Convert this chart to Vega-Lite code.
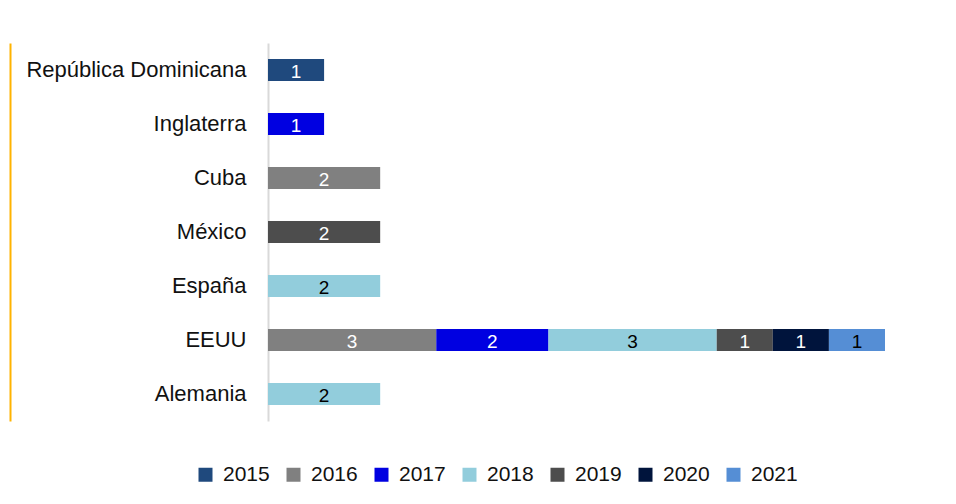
{
  "$schema": "https://vega.github.io/schema/vega-lite/v6.json",
  "width": 617,
  "height": 378,
  "autosize": {"type": "none"},
  "padding": {"left": 268, "top": 43, "right": 71, "bottom": 83},
  "background": "white",
  "config": {
    "view": {"stroke": null},
    "font": "Liberation Sans"
  },
  "data": {
    "values": [
      {"country": "República Dominicana", "year": "2015", "value": 1},
      {"country": "Inglaterra", "year": "2017", "value": 1},
      {"country": "Cuba", "year": "2016", "value": 2},
      {"country": "México", "year": "2019", "value": 2},
      {"country": "España", "year": "2018", "value": 2},
      {"country": "EEUU", "year": "2016", "value": 3},
      {"country": "EEUU", "year": "2017", "value": 2},
      {"country": "EEUU", "year": "2018", "value": 3},
      {"country": "EEUU", "year": "2019", "value": 1},
      {"country": "EEUU", "year": "2020", "value": 1},
      {"country": "EEUU", "year": "2021", "value": 1},
      {"country": "Alemania", "year": "2018", "value": 2}
    ]
  },
  "resolve": {"scale": {"y": "independent"}},
  "layer": [
    {
      "mark": {"type": "bar", "opacity": 1},
      "encoding": {
        "y": {
          "field": "country",
          "type": "nominal",
          "sort": ["República Dominicana", "Inglaterra", "Cuba", "México", "España", "EEUU", "Alemania"],
          "scale": {"paddingInner": 0.593, "paddingOuter": 0.296},
          "axis": {
            "title": null,
            "orient": "left",
            "ticks": false,
            "labelPadding": 22,
            "labelFontSize": 22,
            "labelLimit": 0,
            "labelColor": "#111111",
            "labelFont": "Liberation Sans",
            "domainColor": "#D9D9D9",
            "domainWidth": 2,
            "grid": false
          }
        },
        "x": {
          "field": "value",
          "type": "quantitative",
          "stack": "zero",
          "scale": {"domain": [0, 11], "nice": false},
          "axis": null
        },
        "order": {"field": "year", "sort": "ascending"},
        "color": {
          "field": "year",
          "type": "nominal",
          "scale": {
            "domain": ["2015", "2016", "2017", "2018", "2019", "2020", "2021"],
            "range": ["#1F497D", "#808080", "#0000E1", "#92CDDC", "#4D4D4D", "#00143C", "#558ED5"]
          },
          "legend": {
            "title": null,
            "orient": "none",
            "legendX": -73,
            "legendY": 421,
            "direction": "horizontal",
            "columns": 7,
            "symbolType": "square",
            "symbolSize": 196,
            "symbolStrokeWidth": 0,
            "symbolOpacity": 1,
            "labelFontSize": 21,
            "labelFont": "Liberation Sans",
            "labelColor": "#111111",
            "labelOffset": 7,
            "columnPadding": 13,
            "padding": 0
          }
        }
      }
    },
    {
      "mark": {"type": "text", "fontSize": 19, "baseline": "middle", "align": "center", "dy": 2, "font": "Liberation Sans"},
      "encoding": {
        "y": {
          "field": "country",
          "type": "nominal",
          "sort": ["República Dominicana", "Inglaterra", "Cuba", "México", "España", "EEUU", "Alemania"],
          "scale": {"paddingInner": 0.593, "paddingOuter": 0.296},
          "axis": {
            "title": null,
            "orient": "left",
            "offset": 258,
            "labels": false,
            "ticks": false,
            "domainColor": "#FFB300",
            "domainWidth": 2,
            "grid": false
          }
        },
        "x": {
          "field": "value",
          "type": "quantitative",
          "stack": "zero",
          "bandPosition": 0.5,
          "scale": {"domain": [0, 11], "nice": false},
          "axis": null
        },
        "detail": {"field": "year"},
        "order": {"field": "year", "sort": "ascending"},
        "text": {"field": "value", "type": "quantitative"},
        "color": {
          "condition": {"test": "datum.year === '2018' || datum.year === '2021'", "value": "#000000"},
          "value": "#ffffff"
        }
      }
    }
  ]
}
